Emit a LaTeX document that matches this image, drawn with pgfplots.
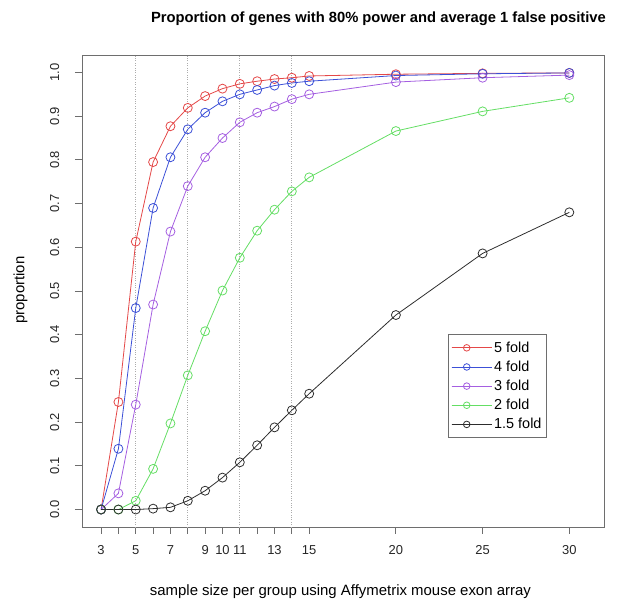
\documentclass[border=0pt]{standalone}
\usepackage{pgfplots}
\pgfplotsset{compat=1.18}
\usepackage{fontspec}
\setmainfont{Liberation Sans}
\definecolor{cred}{RGB}{228,72,72}
\definecolor{cblue}{RGB}{60,80,215}
\definecolor{cpurple}{RGB}{165,95,225}
\definecolor{cgreen}{RGB}{100,222,100}
\definecolor{cblack}{RGB}{45,45,45}
\definecolor{cbox}{RGB}{110,110,110}
\pgfplotstableread{
x r b p g k
3 0 0 0 0 0
4 0.246 0.139 0.037 0.000 0.000
5 0.613 0.461 0.240 0.020 0.000
6 0.795 0.690 0.469 0.093 0.002
7 0.877 0.806 0.636 0.197 0.005
8 0.919 0.870 0.740 0.307 0.020
9 0.946 0.908 0.806 0.408 0.043
10 0.963 0.934 0.850 0.501 0.073
11 0.974 0.950 0.886 0.576 0.108
12 0.980 0.960 0.908 0.638 0.147
13 0.985 0.970 0.922 0.686 0.188
14 0.988 0.976 0.939 0.728 0.227
15 0.992 0.980 0.950 0.760 0.265
20 0.996 0.993 0.978 0.866 0.445
25 0.998 0.997 0.988 0.911 0.586
30 0.999 0.999 0.994 0.942 0.680
}\datatable
\begin{document}
\begin{tikzpicture}
\path[use as bounding box] (0,0) rectangle (621bp,601bp);
\begin{axis}[
  at={(82bp,74bp)}, anchor=south west,
  scale only axis, width=522bp, height=472bp,
  xmin=1.9, xmax=32, ymin=-0.04, ymax=1.04,
  axis line style={cbox, line width=0.8bp},
  tick style={cbox, line width=0.8bp},
  tick align=outside, major tick length=7bp,
  xtick={3,4,5,6,7,8,9,10,11,12,13,14,15,20,25,30},
  xticklabels={3,,5,,7,,9,10,11,,13,,15,20,25,30},
  ytick={0,0.1,...,1.0},
  yticklabels={0.0,0.1,0.2,0.3,0.4,0.5,0.6,0.7,0.8,0.9,1.0},
  xtick pos=bottom, ytick pos=left,
  /pgf/number format/assume math mode=true,
  ticklabel style={font=\fontsize{13}{15}\selectfont, text=black!85, inner sep=0pt},
  xticklabel style={anchor=north},
  xticklabel shift=11.5bp,
  yticklabel style={rotate=90, anchor=south},
  yticklabel shift=15.5bp,
  extra x ticks={5,8,11,14},
  extra x tick labels={},
  extra x tick style={grid=major, major grid style={dotted, gray!65, line width=0.8bp}, major tick length=0pt},
  title={\bfseries Proportion of genes with 80\% power and average 1 false positive},
  title style={at={(axis description cs:0.568,1.0635)}, anchor=center, yshift=0pt, font=\fontsize{14.8}{17}\selectfont, inner sep=0pt},
  xlabel={sample size per group using Affymetrix mouse exon array},
  xlabel style={at={(axis description cs:0.495,-0.1377)}, anchor=center, font=\fontsize{15}{17}\selectfont, inner sep=0pt},
  ylabel={proportion},
  ylabel style={at={(axis description cs:-0.118,0.502)}, anchor=center, rotate=0, font=\fontsize{15}{17}\selectfont, inner sep=0pt},
  every axis plot/.append style={line width=0.8bp, mark=o, mark size=4.5bp, mark options={line width=0.8bp}},
  legend style={at={(axis description cs:0.701,0.409)}, anchor=north west, draw=cbox, line width=0.8bp,
    font=\fontsize{14.5}{16}\selectfont, inner xsep=3bp, inner ysep=5.5bp, row sep=3.2bp, cells={anchor=west}},
  legend image code/.code={
    \path (0bp,0bp) -- (40bp,0bp);
    \draw[#1] (0bp,0bp) -- (30bp,0bp);
    \draw[#1, mark size=3.3bp] plot coordinates {(15bp,0bp)};
  },
  legend cell align=left,
]
\addplot[cred] table[x=x,y=r] {\datatable};
\addplot[cblue] table[x=x,y=b] {\datatable};
\addplot[cpurple] table[x=x,y=p] {\datatable};
\addplot[cgreen] table[x=x,y=g] {\datatable};
\addplot[cblack] table[x=x,y=k] {\datatable};
\legend{5 fold,4 fold,3 fold,2 fold,1.5 fold\hspace{4bp}}
\end{axis}
\end{tikzpicture}
\end{document}
